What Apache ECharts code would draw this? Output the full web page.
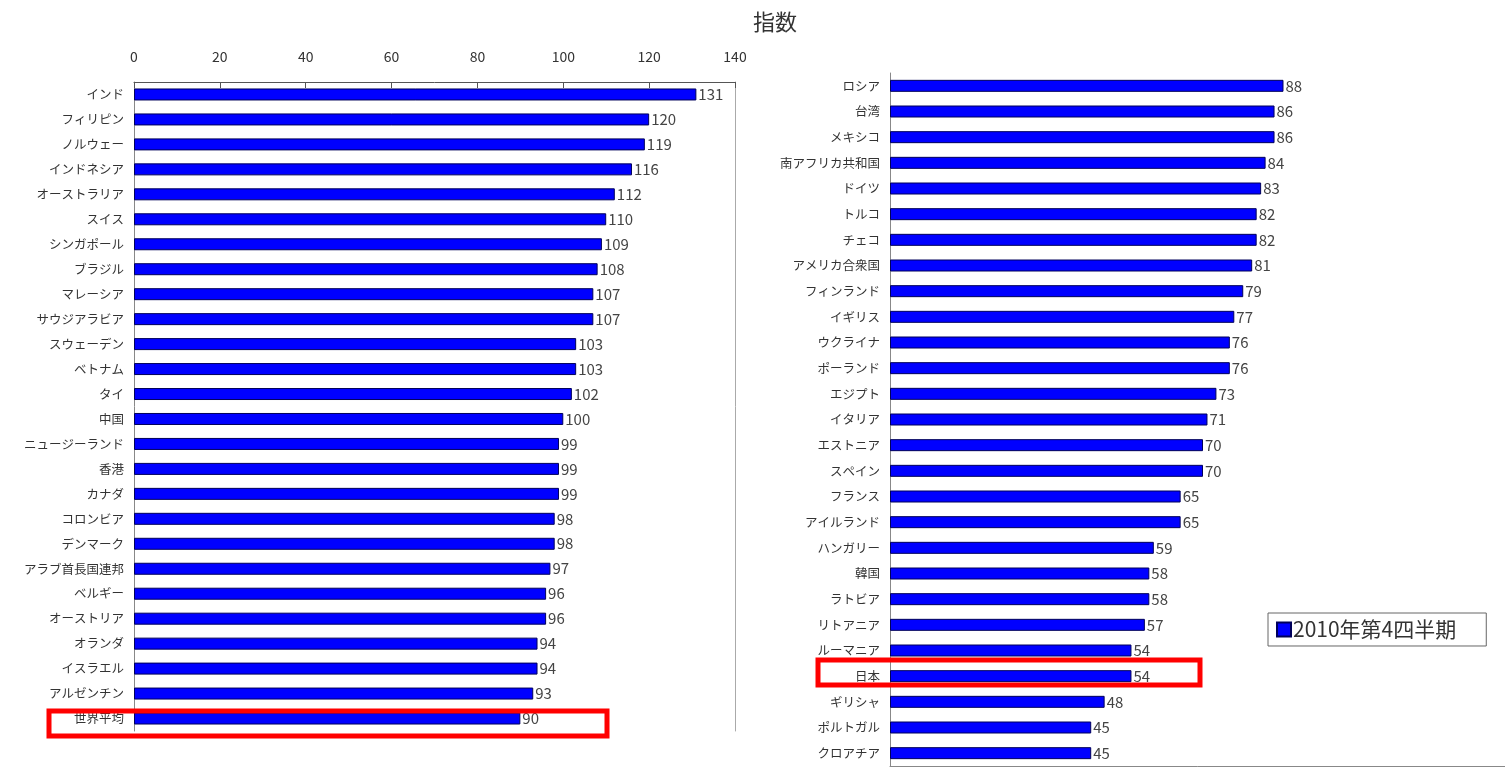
<!DOCTYPE html>
<html>
<head>
<meta charset="utf-8">
<script src="https://cdn.jsdelivr.net/npm/echarts@6/dist/echarts.min.js"></script>
<style>
html, body { margin: 0; padding: 0; background: #fff; }
#chart { width: 1505px; height: 767px; }
</style>
</head>
<body>
<div id="chart"></div>
<script>
// 左側（上位）
var leftNames = ['インド', 'フィリピン', 'ノルウェー', 'インドネシア', 'オーストラリア', 'スイス', 'シンガポール', 'ブラジル', 'マレーシア', 'サウジアラビア', 'スウェーデン', 'ベトナム', 'タイ', '中国', 'ニュージーランド', '香港', 'カナダ', 'コロンビア', 'デンマーク', 'アラブ首長国連邦', 'ベルギー', 'オーストリア', 'オランダ', 'イスラエル', 'アルゼンチン', '世界平均'];
var leftValues = [131, 120, 119, 116, 112, 110, 109, 108, 107, 107, 103, 103, 102, 100, 99, 99, 99, 98, 98, 97, 96, 96, 94, 94, 93, 90];
// 右側（下位）
var rightNames = ['ロシア', '台湾', 'メキシコ', '南アフリカ共和国', 'ドイツ', 'トルコ', 'チェコ', 'アメリカ合衆国', 'フィンランド', 'イギリス', 'ウクライナ', 'ポーランド', 'エジプト', 'イタリア', 'エストニア', 'スペイン', 'フランス', 'アイルランド', 'ハンガリー', '韓国', 'ラトビア', 'リトアニア', 'ルーマニア', '日本', 'ギリシャ', 'ポルトガル', 'クロアチア'];
var rightValues = [88, 86, 86, 84, 83, 82, 82, 81, 79, 77, 76, 76, 73, 71, 70, 70, 65, 65, 59, 58, 58, 57, 54, 54, 48, 45, 45];
var xTicks = [0, 140, 20]; // min, max, interval
var seriesName = '2010年第4四半期';

var font = '"Noto Sans CJK JP", "Noto Sans", sans-serif';
var myChart = echarts.init(document.getElementById('chart'));

function barSeries(idx, data) {
	return {
		name: seriesName,
		type: 'bar',
		xAxisIndex: idx,
		yAxisIndex: idx * 2,
		data: data,
		barWidth: 12,
		itemStyle: { color: '#0000ff', borderColor: '#00005a', borderWidth: 1 },
		label: { show: true, position: 'right', distance: 2, fontSize: 15, color: '#444', fontFamily: font },
		animation: false
	};
}

function catAxis(gi, names) {
	return {
		type: 'category', gridIndex: gi, data: names, inverse: true,
		axisLine: { lineStyle: { color: '#888' } },
		axisTick: { inside: true, length: 3, lineStyle: { color: '#888' } },
		axisLabel: { fontSize: 12.5, color: '#333', margin: 10, fontFamily: font }
	};
}

var option = {
	backgroundColor: '#fff',
	title: {
		text: '指数', left: 770, top: 6, textAlign: 'center',
		textStyle: { fontSize: 22, fontWeight: 'normal', color: '#333', fontFamily: font }
	},
	legend: {
		data: [seriesName], left: 1268, top: 613,
		orient: 'horizontal', padding: [6, 30, 6, 8],
		borderColor: '#666', borderWidth: 1,
		itemWidth: 14, itemHeight: 14, itemGap: 4,
		icon: 'rect',
		textStyle: { fontSize: 21, color: '#333', fontFamily: font, padding: [0, 0, 0, -3] }
	},
	grid: [
		{ left: 134, top: 82, width: 601, height: 649, outerBoundsMode: 'none' },
		{ left: 890, top: 73, width: 626, height: 693, outerBoundsMode: 'none' }
	],
	xAxis: [
		{
			type: 'value', gridIndex: 0, position: 'top',
			min: xTicks[0], max: xTicks[1], interval: xTicks[2],
			axisLine: { show: true, lineStyle: { color: '#555' } },
			axisTick: { show: true, inside: true, length: 6, lineStyle: { color: '#555' } },
			axisLabel: { fontSize: 14, color: '#333', margin: 18, fontFamily: font },
			splitLine: { show: false }
		},
		{
			type: 'value', gridIndex: 1, position: 'bottom',
			min: xTicks[0], max: xTicks[1], interval: xTicks[2],
			axisLine: { show: true, lineStyle: { color: '#888' } },
			axisTick: { show: false },
			axisLabel: { show: false },
			splitLine: { show: false }
		}
	],
	yAxis: [
		catAxis(0, leftNames),
		{
			type: 'category', gridIndex: 0, position: 'right', data: leftNames, inverse: true,
			axisLine: { lineStyle: { color: '#aaa' } },
			axisTick: { show: false }, axisLabel: { show: false }
		},
		catAxis(1, rightNames)
	],
	series: [
		barSeries(0, leftValues),
		barSeries(1, rightValues)
	],
	graphic: [
		{ type: 'rect', shape: { x: 49, y: 711, width: 558, height: 25 }, style: { fill: 'none', stroke: '#ff0000', lineWidth: 5 }, z: 100 },
		{ type: 'rect', shape: { x: 818, y: 660, width: 382, height: 25 }, style: { fill: 'none', stroke: '#ff0000', lineWidth: 5 }, z: 100 }
	]
};
myChart.setOption(option);
</script>
</body>
</html>
